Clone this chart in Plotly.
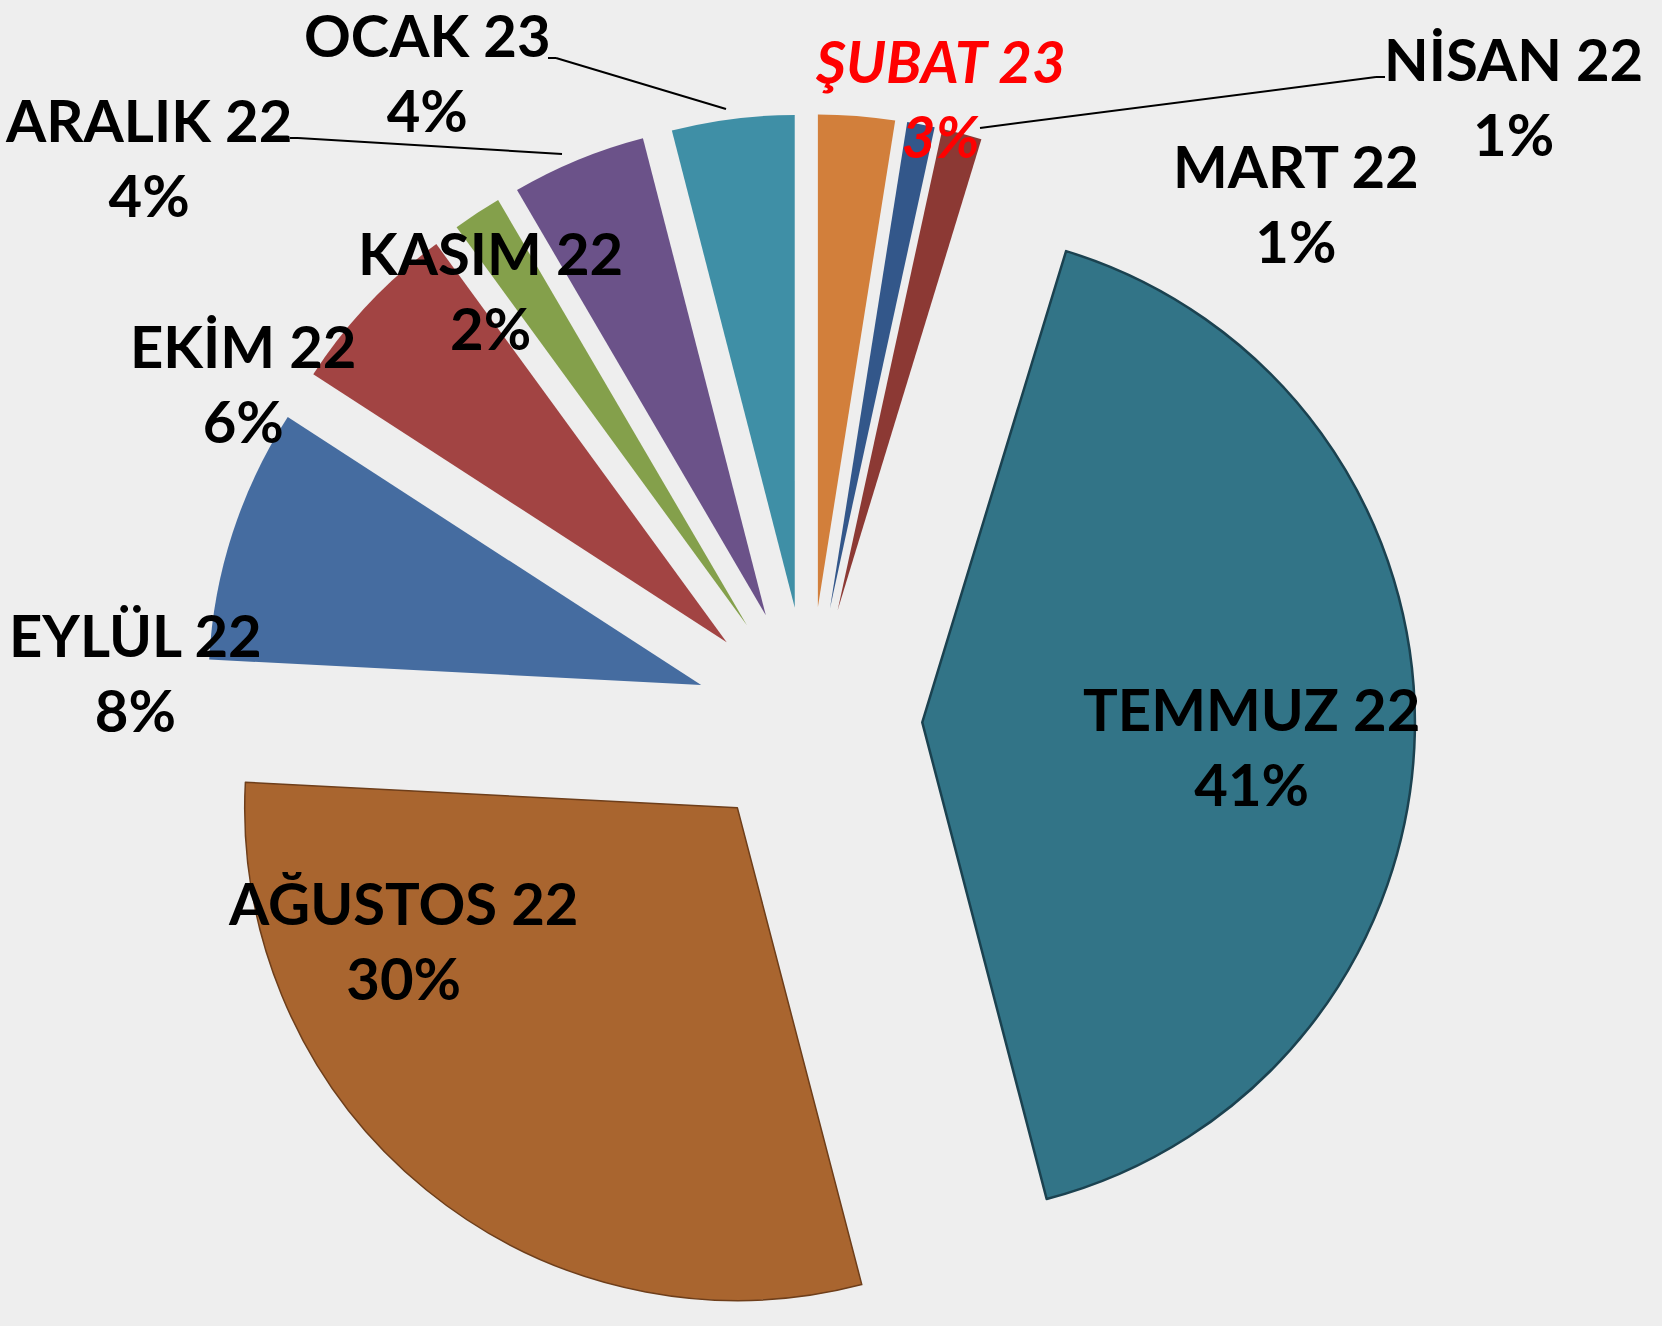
import plotly.graph_objects as go

# Data (clockwise from 12 o'clock)
labels = ["ŞUBAT 23", "MART 22", "NİSAN 22", "TEMMUZ 22", "AĞUSTOS 22",
          "EYLÜL 22", "EKİM 22", "KASIM 22", "ARALIK 22", "OCAK 23"]
values = [2.5, 0.9, 1.3, 41.1, 29.8, 8.3, 5.8, 1.6, 4.4, 4.0]
colors = ["#D27F3B", "#33578A", "#8C3934", "#327487", "#A9652F",
          "#456CA0", "#A24443", "#84A04B", "#6B5289", "#3F8FA6"]
line_colors = ["rgba(0,0,0,0)"] * 3 + ["#1B4250", "#6E3E1A"] + ["rgba(0,0,0,0)"] * 5
line_widths = [0, 0, 0, 2.5, 1.5, 0, 0, 0, 0, 0]

W, H = 1662, 1326
total = sum(values)
pcts = [round(v / total * 100) for v in values]

fig = go.Figure(go.Pie(
    labels=labels,
    values=values,
    sort=False,
    direction="clockwise",
    rotation=0,
    pull=[0.23] * len(values),
    marker=dict(colors=colors, line=dict(color=line_colors, width=line_widths)),
    textinfo="none",
    hoverinfo="label+percent",
    showlegend=False,
    domain=dict(x=[0.1221, 0.8514], y=[0.0, 0.914]),
))

# label centres in pixel coordinates (x, y of the block centre)
label_pos = {
    "OCAK 23": (427, 72),
    "ARALIK 22": (148, 157),
    "ŞUBAT 23": (940, 98),
    "NİSAN 22": (1513, 96),
    "MART 22": (1296, 203),
    "KASIM 22": (490, 290),
    "EKİM 22": (244, 383),
    "EYLÜL 22": (135, 672),
    "TEMMUZ 22": (1251, 746),
    "AĞUSTOS 22": (403, 940),
}

for lab, p in zip(labels, pcts):
    x, y = label_pos[lab]
    red = lab == "ŞUBAT 23"
    txt = f"{lab}<br>{p}%"
    if red:
        txt = f"<i>{lab}<br>{p}%</i>"
    fig.add_annotation(
        x=x / W, y=1 - y / H, xref="paper", yref="paper",
        text=txt, showarrow=False, xanchor="center", yanchor="middle",
        align="center",
        font=dict(family="Lato", size=58, color="#FF0000" if red else "#000000",
                  weight="bold"),
    )

# leader lines (pixel coords)
leaders = [
    [(548, 58), (556, 58), (726, 109)],   # OCAK
    [(290, 138), (298, 138), (562, 154)],  # ARALIK
    [(1385, 77), (1376, 77), (980, 128)],  # NİSAN
]
for pts in leaders:
    for (x0, y0), (x1, y1) in zip(pts[:-1], pts[1:]):
        fig.add_shape(type="line", xref="paper", yref="paper",
                      x0=x0 / W, y0=1 - y0 / H, x1=x1 / W, y1=1 - y1 / H,
                      line=dict(color="#000000", width=2))

fig.update_layout(
    width=W, height=H,
    margin=dict(l=0, r=0, t=0, b=0),
    paper_bgcolor="#EEEEEE",
    plot_bgcolor="#EEEEEE",
)

fig.write_html("out.html",
               config={"displayModeBar": False},
               post_script="document.body.style.margin='0';document.body.style.overflow='hidden';")
